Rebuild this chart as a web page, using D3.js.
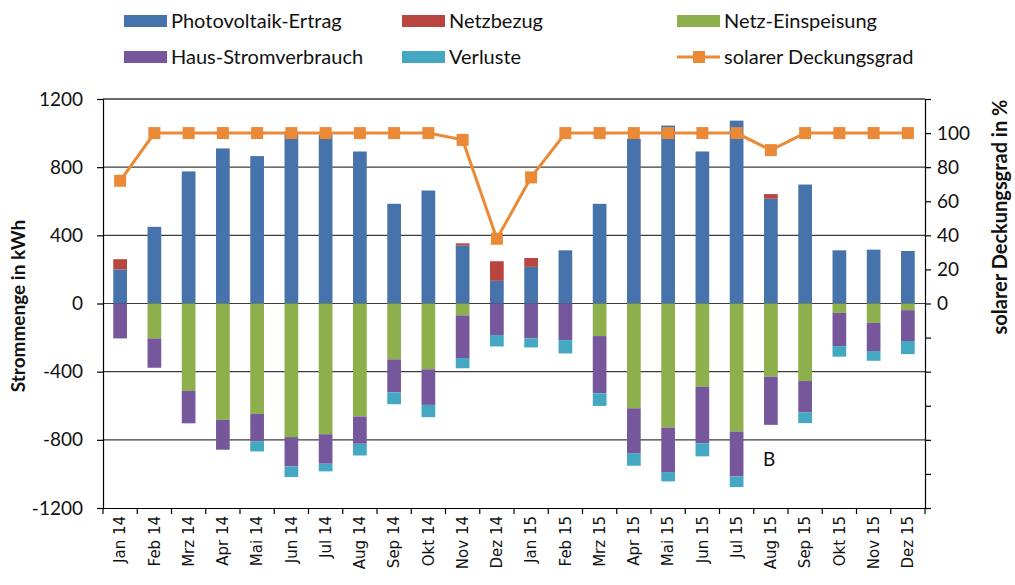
<!DOCTYPE html>
<html>
<head>
<meta charset="utf-8">
<script src="https://cdn.jsdelivr.net/npm/d3@7"></script>
<style>
body { margin:0; background:#fff; }
svg text { font-family: Lato, "Open Sans", sans-serif; fill:#111; }
</style>
</head>
<body>
<div class="container"></div>
<script>
// data
var months = ["Jan 14","Feb 14","Mrz 14","Apr 14","Mai 14","Jun 14","Jul 14","Aug 14","Sep 14","Okt 14","Nov 14","Dez 14",
              "Jan 15","Feb 15","Mrz 15","Apr 15","Mai 15","Jun 15","Jul 15","Aug 15","Sep 15","Okt 15","Nov 15","Dez 15"];
var pvErtrag     = [200,450,775,910,865,1010,990,892,585,663,341,133, 215,312,585,966,1044,892,1073,615,698,312,316,308];
var netzbezug    = [60,0,0,0,0,0,0,0,0,0,12,115, 52,0,0,0,0,0,0,27,0,0,0,0];
var einspeisung  = [0,205,513,683,648,784,767,663,328,386,70,0, 0,0,191,615,728,488,751,429,455,55,113,39];
var hausVerbr    = [205,172,190,175,162,172,173,160,193,209,250,185, 205,215,336,263,261,332,264,283,183,195,166,181];
var verluste     = [0,0,0,0,58,62,45,69,70,72,60,67, 53,78,74,74,55,77,62,0,64,62,57,77];
var deckungsgrad = [72,100,100,100,100,100,100,100,100,100,96,38, 74,100,100,100,100,100,100,90,100,100,100,100];

var leftTicks = [-1200,-800,-400,0,400,800,1200];
var rightTicks = [-120,-100,-80,-60,-40,-20,0,20,40,60,80,100,120];
var rightLabels = [0,20,40,60,80,100];

var keys = ["pv","nb","ein","haus","verl"];
var names = {pv:"Photovoltaik-Ertrag", nb:"Netzbezug", ein:"Netz-Einspeisung", haus:"Haus-Stromverbrauch", verl:"Verluste"};
var colors = {pv:"#4673ab", nb:"#b94540", ein:"#8daf4c", haus:"#77579c", verl:"#44a8c2"};
var orange = "#eb8a36";

var W = 1015, H = 585;
var m = {left:103, right:90, top:99, bottom:77};

var svg = d3.select(".container").append("svg").attr("width",W).attr("height",H);

var x = d3.scaleBand().domain(months).range([m.left, W-m.right]).paddingInner(0.6).paddingOuter(0.3);
var xb = d3.scaleBand().domain(months).range([m.left, W-m.right]);
var y = d3.scaleLinear().domain([-1200,1200]).range([H-m.bottom, m.top]);
var y2 = d3.scaleLinear().domain([-120,120]).range([H-m.bottom, m.top]);

// gridlines
svg.append("g").selectAll("line").data(leftTicks.slice(1)).enter().append("line")
	.attr("x1",m.left).attr("x2",W-m.right)
	.attr("y1",function(d){return y(d);}).attr("y2",function(d){return y(d);})
	.style("stroke","#3c3c3c").style("stroke-width",1.2);

// stacked bars
var rows = months.map(function(mo,i){
	return {m:mo, pv:pvErtrag[i], nb:netzbezug[i], ein:-einspeisung[i], haus:-hausVerbr[i], verl:-verluste[i]};
});
var series = d3.stack().keys(keys).offset(d3.stackOffsetDiverging)(rows);
svg.append("g").selectAll("g").data(series).enter().append("g")
	.style("fill",function(s){return colors[s.key];})
	.selectAll("rect").data(function(s){return s;}).enter().append("rect")
	.attr("x",function(d){return x(d.data.m);})
	.attr("width",x.bandwidth())
	.attr("y",function(d){return y(Math.max(d[0],d[1]));})
	.attr("height",function(d){return Math.abs(y(d[0])-y(d[1]));});

// axes
var yAxis = d3.axisLeft(y).tickValues(leftTicks).tickSize(6).tickPadding(14)
	.tickFormat(function(d){return String(d);});
var gy = svg.append("g").attr("transform","translate("+m.left+",0)").call(yAxis);
gy.selectAll("text").style("font-size","19px");

var y2Axis = d3.axisRight(y2).tickValues(rightTicks).tickSize(6).tickPadding(6)
	.tickFormat(function(d){return rightLabels.indexOf(d)>=0 ? String(d) : "";});
var gy2 = svg.append("g").attr("transform","translate("+(W-m.right)+",0)").call(y2Axis);
gy2.selectAll("text").style("font-size","19px");

var xAxis = d3.axisBottom(xb).tickSize(0).tickPadding(8);
var gx = svg.append("g").attr("transform","translate(0,"+(H-m.bottom)+")").call(xAxis);
gx.selectAll("text")
	.style("font-family","'DejaVu Sans', sans-serif").style("font-size","15px")
	.attr("transform","rotate(-90)").attr("text-anchor","end")
	.attr("x",-8).attr("y",0).attr("dy","0.35em");
// category boundary ticks
gx.selectAll(".sep").data(months.concat(["end"])).enter().append("line")
	.attr("x1",function(d,i){return m.left + i*xb.step();})
	.attr("x2",function(d,i){return m.left + i*xb.step();})
	.attr("y1",0).attr("y2",6).style("stroke","#000");

[gy,gy2,gx].forEach(function(g){ g.selectAll("path,line").style("stroke","#000").style("stroke-width",1.2); });

// top frame line
svg.append("line").attr("x1",m.left).attr("x2",W-m.right).attr("y1",y(1200)).attr("y2",y(1200))
	.style("stroke","#3c3c3c").style("stroke-width",1.2);

// solar coverage line
var line = d3.line().x(function(d,i){return xb(months[i])+xb.bandwidth()/2;}).y(function(d){return y2(d);});
svg.append("path").datum(deckungsgrad).attr("d",line)
	.style("fill","none").style("stroke",orange).style("stroke-width",3);
svg.append("g").selectAll("rect").data(deckungsgrad).enter().append("rect")
	.attr("x",function(d,i){return xb(months[i])+xb.bandwidth()/2-6;})
	.attr("y",function(d){return y2(d)-6;})
	.attr("width",12).attr("height",12).style("fill",orange);

// axis titles
svg.append("text").attr("transform","translate(25,306) rotate(-90)")
	.attr("text-anchor","middle").style("font-weight","bold").style("font-size","19px")
	.text("Strommenge in kWh");
svg.append("text").attr("transform","translate(1007,217) rotate(-90)")
	.attr("text-anchor","middle").style("font-weight","bold").style("font-size","20px")
	.text("solarer Deckungsgrad in %");

svg.append("text").attr("x",763).attr("y",466).style("font-size","19px").text("B");

// legend
var legend = [
	{k:"pv", x:124, y:21}, {k:"nb", x:402, y:21}, {k:"ein", x:677, y:21},
	{k:"haus", x:124, y:57}, {k:"verl", x:402, y:57}, {k:"line", x:677, y:57}
];
legend.forEach(function(l){
	var g = svg.append("g").attr("transform","translate("+l.x+","+l.y+")");
	if (l.k == "line") {
		g.append("line").attr("x1",0).attr("x2",43).attr("y1",0).attr("y2",0).style("stroke",orange).style("stroke-width",3);
		g.append("rect").attr("x",16).attr("y",-6).attr("width",12).attr("height",12).style("fill",orange);
		g.append("text").attr("x",47).attr("dy","0.35em").style("font-size","20px").text("solarer Deckungsgrad");
	} else {
		g.append("rect").attr("x",0).attr("y",-6).attr("width",43).attr("height",12).style("fill",colors[l.k]);
		g.append("text").attr("x",47).attr("dy","0.35em").style("font-size","20px").text(names[l.k]);
	}
});
</script>
</body>
</html>
